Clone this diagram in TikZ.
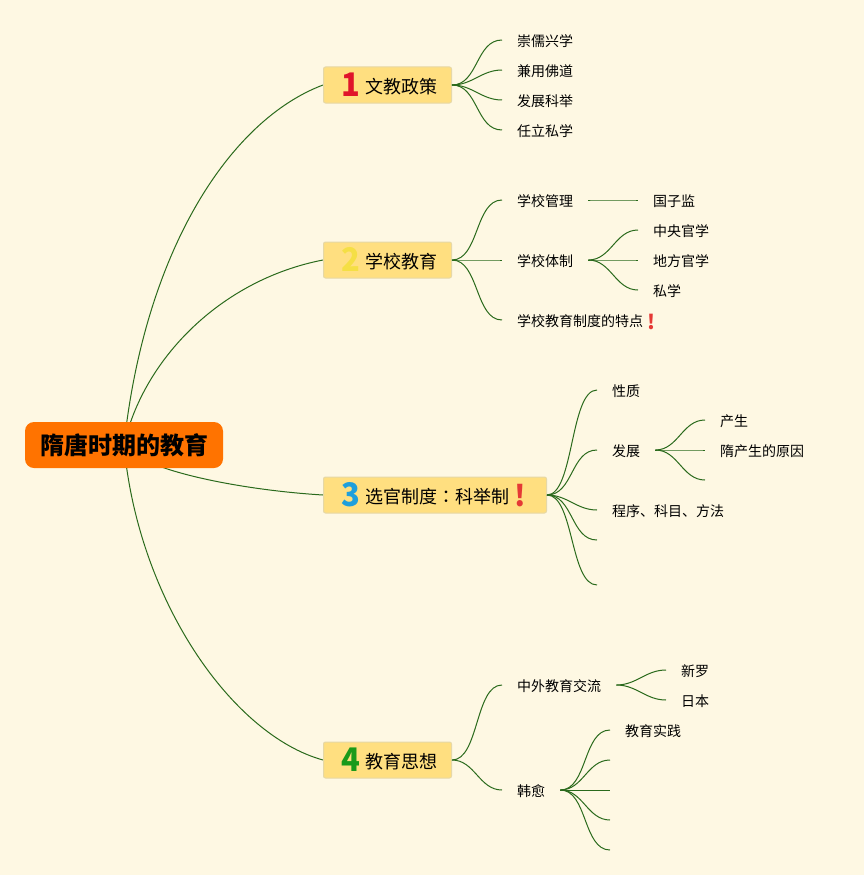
\documentclass[tikz,border=0pt]{standalone}
\usepackage{graphicx}
\usepackage{fontspec}
\setmainfont{Noto Sans CJK SC}
\newfontfamily\tcfont{Noto Sans CJK TC}
\usetikzlibrary{backgrounds}
\definecolor{paper}{HTML}{FEF8E3}
\definecolor{rootfill}{HTML}{FF7300}
\definecolor{topicfill}{HTML}{FFDF80}
\definecolor{topicedge}{HTML}{E6D8A6}
\definecolor{branch}{HTML}{2A6A1C}
\definecolor{numred}{HTML}{E0142A}
\definecolor{numyellow}{HTML}{F5DF45}
\definecolor{numblue}{HTML}{1E9FDC}
\definecolor{numgreen}{HTML}{1A9A1A}
\definecolor{markred}{HTML}{E53935}
\newcommand{\topicnum}[2]{\makebox[27pt][l]{\hspace{3.5pt}\raisebox{-3pt}{\scalebox{0.95}[1]{\fontsize{32.5}{32.5}\selectfont\bfseries\textcolor{#1}{#2}}}}}
\newcommand{\alertmark}[2]{\raisebox{-#2pt}{\fontsize{#1}{#1}\selectfont\bfseries\textcolor{markred}{!}}}
\tikzset{
  rootnode/.style={fill=rootfill, rounded corners=9pt, minimum width=198pt, minimum height=46pt, inner sep=0pt, font=\fontsize{24}{28}\selectfont\bfseries},
  topic/.style={anchor=west, fill=topicfill, draw=topicedge, line width=1pt, rounded corners=2pt, minimum height=36pt, inner xsep=14.5pt, inner ysep=0pt, text height=20pt, text depth=2.3pt, font=\fontsize{18}{22}\selectfont},
  leaf/.style={anchor=west, inner xsep=15pt, inner ysep=0pt, text height=14.6pt, text depth=2pt, font=\fontsize{14}{17}\selectfont},
  link/.style={draw=branch, line width=1pt},
  fork/.style={out=0, in=180, max distance=27pt}
}
\begin{document}
\begin{tikzpicture}[x=1pt, y=-1pt]
    \draw
    (124, 445) node[rootnode](Root){隋唐时期的教育}
    (323, 85) node[topic](Policy){\topicnum{numred}{1}文教政策}
    (323, 260) node[topic](School){\topicnum{numyellow}{2}学校教育}
    (323, 495) node[topic](Exam){\topicnum{numblue}{3}选官制度{\tcfont ：}科举制\makebox[23pt]{\alertmark{29}{3}}}
    (323, 760) node[topic](Thought){\topicnum{numgreen}{4}教育思想}
    (502, 40) node[leaf](Confu){崇儒兴学}
    (502, 70) node[leaf](Buddha){兼用佛道}
    (502, 100) node[leaf](Keju){发展科举}
    (502, 130) node[leaf](Private){任立私学}
    (502, 200) node[leaf](Manage){学校管理}
    (638, 200) node[leaf](Guozi){国子监}
    (502, 260) node[leaf](System){学校体制}
    (638, 230) node[leaf](Central){中央官学}
    (638, 260) node[leaf](Local){地方官学}
    (638, 290) node[leaf](Sixue){私学}
    (502, 320) node[leaf](Feature){学校教育制度的特点\makebox[16pt]{\alertmark{20}{3}}}
    (597, 390) node[leaf](Nature){性质}
    (597, 450) node[leaf](Growth){发展}
    (705, 420) node[leaf](Origin){产生}
    (705, 450) node[leaf](Reason){隋产生的原因}
    (597, 510) node[leaf](Method){程序、科目、方法}
    (502, 685) node[leaf](Abroad){中外教育交流}
    (666, 670) node[leaf](Silla){新罗}
    (666, 700) node[leaf](Japan){日本}
    (502, 790) node[leaf](HanYu){韩愈}
    (610, 730) node[leaf](Practice){教育实践};

    % branches without any text
    \coordinate (ExamD) at (597, 540);
    \coordinate (ExamE) at (597, 585);
    \coordinate (GrowthC) at (705, 480);
    \coordinate (HanB) at (610, 760);
    \coordinate (HanC) at (610, 790);
    \coordinate (HanD) at (610, 820);
    \coordinate (HanE) at (610, 850);

    \begin{scope}[on background layer]
    \fill[paper] (0, 0) rectangle (864, 875);
    \draw[link] (Root.center) .. controls (145, 250) and (230, 120) .. (Policy.west);
    \draw[link] (Root.center) .. controls (143, 360) and (220, 280) .. (School.west);
    \draw[link] (Root.center) .. controls (140, 470) and (240, 490) .. (Exam.west);
    \draw[link] (Root.center) .. controls (138, 600) and (232, 735) .. (Thought.west);
    \end{scope}

    \draw[link] (Policy.east) to[fork] (Confu.west);
    \draw[link] (Policy.east) to[fork] (Buddha.west);
    \draw[link] (Policy.east) to[fork] (Keju.west);
    \draw[link] (Policy.east) to[fork] (Private.west);
    \draw[link] (School.east) to[fork] (Manage.west);
    \draw[link] (School.east) to[fork] (System.west);
    \draw[link] (School.east) to[fork] (Feature.west);
    \draw[link] (Manage.east) to[fork] (Guozi.west);
    \draw[link] (System.east) to[fork] (Central.west);
    \draw[link] (System.east) to[fork] (Local.west);
    \draw[link] (System.east) to[fork] (Sixue.west);
    \draw[link] (Exam.east) to[fork] (Nature.west);
    \draw[link] (Exam.east) to[fork] (Growth.west);
    \draw[link] (Exam.east) to[fork] (Method.west);
    \draw[link] (Exam.east) to[fork] (ExamD);
    \draw[link] (Exam.east) to[fork] (ExamE);
    \draw[link] (Growth.east) to[fork] (Origin.west);
    \draw[link] (Growth.east) to[fork] (Reason.west);
    \draw[link] (Growth.east) to[fork] (GrowthC);
    \draw[link] (Thought.east) to[fork] (Abroad.west);
    \draw[link] (Thought.east) to[fork] (HanYu.west);
    \draw[link] (Abroad.east) to[fork] (Silla.west);
    \draw[link] (Abroad.east) to[fork] (Japan.west);
    \draw[link] (HanYu.east) to[fork] (Practice.west);
    \draw[link] (HanYu.east) to[fork] (HanB);
    \draw[link] (HanYu.east) to[fork] (HanC);
    \draw[link] (HanYu.east) to[fork] (HanD);
    \draw[link] (HanYu.east) to[fork] (HanE);

  \end{tikzpicture}
\end{document}
